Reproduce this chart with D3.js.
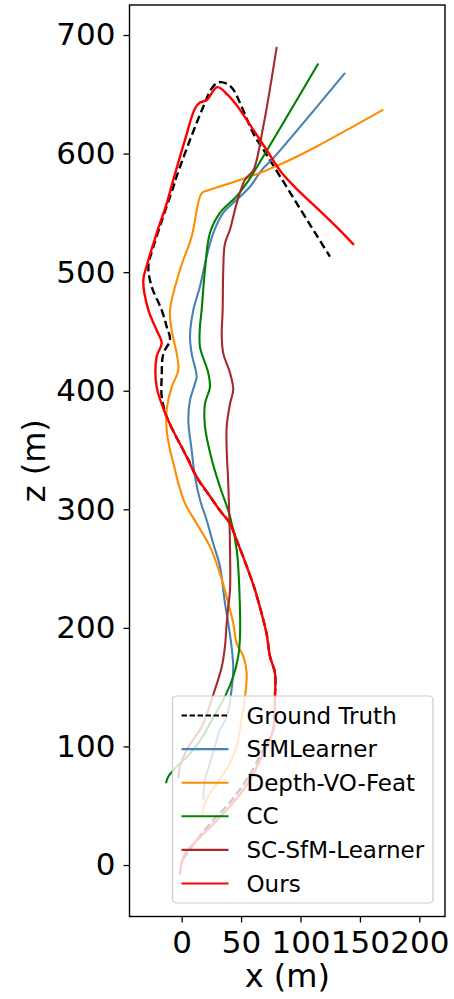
<!DOCTYPE html>
<html>
<head>
<meta charset="utf-8">
<script src="https://cdn.jsdelivr.net/npm/d3@7"></script>
<style>
  body { margin: 0; background: white; }
</style>
</head>
<body>
<div id="wrapper"></div>
<script>
const FONT_FAMILY = "DejaVu Sans";
const TICK_FONT_SIZE = "31px";
const LABEL_FONT_SIZE = "32px";
const LEGEND_FONT_SIZE = "23px";

// trajectories, [x (m), z (m)]
const groundTruth = [
    [1, 5], [12.6, 21], [26.6, 38], [40.7, 53], [54.7, 72], [68.7, 97], [77, 114],
    [78.5, 142], [78.5, 162], [74.3, 176], [71.5, 195], [67.3, 212], [61.7, 232],
    [54.7, 252], [46.3, 274], [40.7, 288], [32.2, 299], [23.8, 311], [12.6, 327],
    [5.6, 342], [1.3, 350], [-12.6, 378], [-16.8, 395], [-16.8, 412], [-15.5, 431],
    [-9.8, 443], [-12.6, 454], [-16.8, 468], [-25.3, 488], [-28, 505], [-23.9, 521],
    [-15.5, 547], [-7, 572], [-4.5, 580], [7, 611.5], [18.2, 639.5], [25.3, 655],
    [30.8, 660], [37.9, 659], [43.4, 654], [50.5, 639.5], [60.3, 617], [70.2, 601],
    [86.4, 575], [101.2, 551], [113, 532], [124.8, 513],
];

const sfmLearner = [
    [18.2, 55], [19.6, 72], [23.8, 86], [28, 100], [32.2, 114], [37.9, 125], [42, 148],
    [43.4, 167], [42, 184], [39.2, 204], [36.4, 221], [32.2, 252], [26.6, 271],
    [21, 291], [15.4, 308], [11.2, 327.5], [8.4, 350], [5.6, 375], [7, 392],
    [11.2, 406], [12.6, 412], [8.4, 431.5], [7, 446], [9.8, 468], [15.4, 488],
    [21, 513], [26.6, 533], [35, 550], [46.3, 561], [57.5, 572], [67.3, 586],
    [77, 596], [137.5, 668],
];

const depthVoFeat = [
    [17.7, 42], [18.2, 49], [23.8, 60.5], [33.7, 74.5], [40.7, 86], [46.3, 100], [49, 114],
    [53.3, 142], [54.7, 162], [51.9, 176], [46.3, 187], [43.4, 204], [39.2, 221],
    [32.2, 246], [23.8, 268.5], [12.6, 288], [2.8, 305], [-2.8, 322], [-7, 339],
    [-9.8, 350], [-12.6, 367], [-12.6, 384], [-8.4, 403], [-2.8, 417.5], [-4.2, 431.5],
    [-8.4, 451], [-9.8, 468], [-1.4, 502], [8.4, 530], [16.8, 566.5], [22.4, 569],
    [40.7, 575], [57.5, 580.6], [71.5, 586], [85.5, 592], [113.6, 606], [169.7, 637],
];

const cc = [
    [-13.2, 69], [-11.3, 74.5], [-4.2, 83], [7, 94], [15.4, 105], [21, 114], [23.8, 119.5],
    [36.4, 142], [43.4, 159], [47.6, 176], [49, 190], [49, 218], [46.3, 266],
    [40.7, 294], [32.2, 319], [25.3, 342], [19.6, 370], [19.6, 389], [23.8, 403],
    [22.4, 415], [15.4, 437], [15.4, 454], [16.8, 468], [19.6, 502], [23.8, 533],
    [32.2, 550], [46.3, 564], [54.7, 575], [61.7, 586], [115, 676],
];

const scSfmLearner = [
    [-2.8, 73], [-1.4, 83], [4.2, 97], [11.2, 108], [15.4, 114], [18.2, 119.5], [28, 148],
    [33.7, 167], [36.4, 184], [37.9, 204], [39.2, 218], [40.7, 232], [40.7, 266],
    [39.2, 322], [37.9, 350], [37.9, 370], [40.7, 389], [43.4, 401], [40.7, 415],
    [35, 431.5], [33.7, 446], [34.5, 468], [35, 502], [36.4, 524], [40.7, 536],
    [46.3, 558], [53.3, 578], [60.3, 586], [68.7, 623], [80, 690],
];

const ours = [
    [-1.4, -8], [0, 2], [3, 10], [14, 22], [28, 36], [42, 51], [56, 69], [69, 95],
    [77, 114], [78.5, 142], [78.5, 162], [74.3, 176], [71.5, 195], [67.3, 212],
    [61.7, 232], [54.7, 252], [46.3, 274], [40.7, 288], [32.2, 299], [23.8, 311],
    [12.6, 327.5], [1.3, 350], [-5, 362], [-12.6, 378], [-21, 403], [-21, 429],
    [-16.8, 440], [-21, 451], [-28, 468], [-32.3, 493], [-29.5, 505], [-21, 533],
    [-12.6, 558], [-7, 578], [2.8, 611.5], [11.2, 638], [15.4, 643], [21, 645],
    [30, 656], [39.2, 649], [49, 637], [60.3, 620], [71.5, 603], [84, 584],
    [100, 567], [115, 553], [130.5, 538], [145, 523],
];

const seriesNames = ["Ground Truth", "SfMLearner", "Depth-VO-Feat", "CC", "SC-SfM-Learner", "Ours"];
const seriesData = [groundTruth, sfmLearner, depthVoFeat, cc, scSfmLearner, ours];
const seriesColors = ["black", "steelblue", "darkorange", "green", "brown", "red"];

const xTicks = [0, 50, 100, 150, 200];
const zTicks = [0, 100, 200, 300, 400, 500, 600, 700];
const xLimits = [-43.9, 221.6];
const zLimits = [-43.4, 725.3];

function drawChart() {
    let dimensions = {
        width: 454,
        height: 999,
        margin: { top: 5, right: 9, bottom: 82.5, left: 129.5 },
    };
    dimensions.boundedWidth = dimensions.width - dimensions.margin.left - dimensions.margin.right;
    dimensions.boundedHeight = dimensions.height - dimensions.margin.top - dimensions.margin.bottom;

    const wrapper = d3.select("#wrapper")
        .append("svg")
        .attr("width", dimensions.width)
        .attr("height", dimensions.height);

    const bounds = wrapper.append("g")
        .attr("transform", `translate(${dimensions.margin.left},${dimensions.margin.top})`);

    const xScale = d3.scaleLinear()
        .domain(xLimits)
        .range([0, dimensions.boundedWidth]);

    const zScale = d3.scaleLinear()
        .domain(zLimits)
        .range([dimensions.boundedHeight, 0]);

    const lineGenerator = d3.line()
        .x(d => xScale(d[0]))
        .y(d => zScale(d[1]))
        .curve(d3.curveCatmullRom.alpha(0.5));

    bounds.append("defs").append("clipPath")
        .attr("id", "plot-clip")
        .append("rect")
        .attr("width", dimensions.boundedWidth)
        .attr("height", dimensions.boundedHeight);

    const linesGroup = bounds.append("g").attr("clip-path", "url(#plot-clip)");

    seriesData.forEach((data, i) => {
        linesGroup.append("path")
            .attr("d", lineGenerator(data))
            .attr("fill", "none")
            .attr("stroke", seriesColors[i])
            .attr("stroke-width", i === 0 || i === 5 ? 2.4 : 2.1)
            .attr("stroke-dasharray", i === 0 ? "8,4" : null)
            .attr("stroke-linejoin", "round");
    });

    // axes
    const xAxis = d3.axisBottom(xScale)
        .tickValues(xTicks)
        .tickSize(6)
        .tickPadding(8);
    const xAxisGroup = bounds.append("g")
        .attr("transform", `translate(0,${dimensions.boundedHeight})`)
        .call(xAxis);

    const zAxis = d3.axisLeft(zScale)
        .tickValues(zTicks)
        .tickSize(6)
        .tickPadding(8);
    const zAxisGroup = bounds.append("g").call(zAxis);

    [xAxisGroup, zAxisGroup].forEach(g => {
        g.select(".domain").remove();
        g.selectAll(".tick line").attr("stroke", "black").attr("stroke-width", 1.3);
        g.selectAll(".tick text")
            .attr("fill", "black")
            .style("font-family", FONT_FAMILY)
            .style("font-size", TICK_FONT_SIZE);
    });

    bounds.append("rect")
        .attr("width", dimensions.boundedWidth)
        .attr("height", dimensions.boundedHeight)
        .attr("fill", "none")
        .attr("stroke", "black")
        .attr("stroke-width", 1.4);

    bounds.append("text")
        .attr("x", dimensions.boundedWidth / 2)
        .attr("y", dimensions.boundedHeight + 70)
        .attr("text-anchor", "middle")
        .style("font-family", FONT_FAMILY)
        .style("font-size", LABEL_FONT_SIZE)
        .text("x (m)");

    bounds.append("text")
        .attr("transform", `translate(${-dimensions.margin.left + 45},${dimensions.boundedHeight / 2}) rotate(-90)`)
        .attr("text-anchor", "middle")
        .style("font-family", FONT_FAMILY)
        .style("font-size", LABEL_FONT_SIZE)
        .text("z (m)");

    // legend
    const legend = wrapper.append("g").attr("transform", "translate(172.5,696)");
    legend.append("rect")
        .attr("width", 260.5)
        .attr("height", 207)
        .attr("rx", 4)
        .attr("fill", "white")
        .attr("fill-opacity", 0.8)
        .attr("stroke", "#cccccc")
        .attr("stroke-width", 1.2);

    const legendRows = legend.selectAll(".legend-row")
        .data(seriesNames)
        .enter().append("g")
        .attr("transform", (d, i) => `translate(0,${19.5 + i * 33.6})`);

    legendRows.append("line")
        .attr("x1", 9)
        .attr("x2", 56)
        .attr("stroke", (d, i) => seriesColors[i])
        .attr("stroke-width", 2.1)
        .attr("stroke-dasharray", (d, i) => i === 0 ? "5.5,2.5" : null);

    legendRows.append("text")
        .attr("x", 74)
        .attr("dy", "0.35em")
        .style("font-family", FONT_FAMILY)
        .style("font-size", LEGEND_FONT_SIZE)
        .text(d => d);
}

drawChart();
</script>
</body>
</html>
